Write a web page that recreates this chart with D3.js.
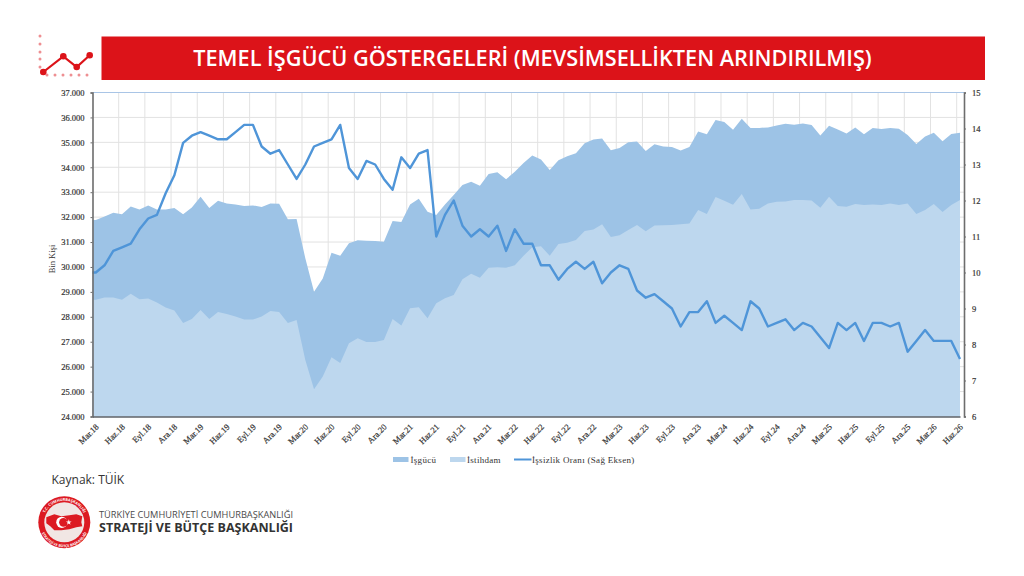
<!DOCTYPE html>
<html>
<head>
<meta charset="utf-8">
<script src="https://cdn.jsdelivr.net/npm/d3@7"></script>
<style>
  body { margin: 0; background: #fff; }
  svg { display: block; }
  .serif { font-family: "Liberation Serif", serif; fill: #333; }
  .sans { font-family: "Open Sans", sans-serif; }
  .axis text { font-family: "Liberation Serif", serif; font-size: 8.5px; fill: #333; stroke: #333; stroke-width: 0.2px; }
</style>
</head>
<body>
<svg id="chart" width="1024" height="576"></svg>
<script>
// aylik veri: Mar.18 - Haz.26 (bin kisi / yuzde)
var isgucu = [
  31.88,32.02,32.18,32.11,32.43,32.31,32.47,32.31,32.31,32.37,
  32.11,32.39,32.82,32.37,32.66,32.55,32.51,32.45,32.47,32.41,
  32.55,32.54,31.91,31.92,30.35,29.01,29.54,30.57,30.45,30.95,
  31.07,31.05,31.04,31.01,31.84,31.80,32.51,32.74,32.22,32.08,
  32.51,32.89,33.29,33.42,33.26,33.73,33.80,33.52,33.82,34.17,
  34.47,34.31,33.89,34.28,34.44,34.56,34.96,35.11,35.15,34.68,
  34.77,35.00,35.03,34.65,34.92,34.83,34.81,34.67,34.81,35.44,
  35.32,35.90,35.82,35.51,35.95,35.58,35.58,35.60,35.68,35.75,
  35.71,35.76,35.70,35.27,35.67,35.52,35.35,35.60,35.32,35.58,
  35.54,35.58,35.55,35.29,34.93,35.23,35.39,35.04,35.33,35.39
].map(function(d){ return d * 1000; });

var istihdam = [
  28.68,28.77,28.77,28.68,28.93,28.70,28.73,28.57,28.37,28.25,
  27.75,27.91,28.27,27.91,28.19,28.11,28.01,27.89,27.89,28.01,
  28.23,28.19,27.75,27.87,26.27,25.09,25.60,26.38,26.15,26.94,
  27.14,26.99,26.99,27.07,27.91,27.65,28.34,28.38,27.94,28.54,
  28.74,28.88,29.51,29.73,29.57,29.97,29.99,29.97,30.07,30.45,
  30.79,30.83,30.45,30.92,30.97,31.08,31.44,31.50,31.71,31.20,
  31.27,31.48,31.68,31.43,31.66,31.67,31.68,31.71,31.74,32.29,
  32.13,32.81,32.66,32.50,32.93,32.31,32.34,32.55,32.62,32.63,
  32.69,32.69,32.67,32.38,32.82,32.45,32.42,32.53,32.49,32.51,
  32.49,32.55,32.49,32.55,32.13,32.29,32.53,32.21,32.49,32.69
].map(function(d){ return d * 1000; });

var issizlik = [
  10.0,10.2,10.6,10.7,10.8,11.2,11.5,11.6,12.2,12.7,
  13.6,13.8,13.9,13.8,13.7,13.7,13.9,14.1,14.1,13.5,
  13.3,13.4,13.0,12.6,13.0,13.5,13.6,13.7,14.1,12.9,
  12.6,13.1,13.0,12.6,12.3,13.2,12.9,13.3,13.4,11.0,
  11.6,12.0,11.3,11.0,11.2,11.0,11.3,10.6,11.2,10.8,
  10.8,10.2,10.2,9.8,10.1,10.3,10.1,10.3,9.7,10.0,
  10.2,10.1,9.5,9.3,9.4,9.2,9.0,8.5,8.9,8.9,
  9.2,8.6,8.8,8.6,8.4,9.2,9.0,8.5,8.6,8.7,
  8.4,8.6,8.5,8.2,7.9,8.6,8.4,8.6,8.1,8.6,
  8.6,8.5,8.6,7.8,8.1,8.4,8.1,8.1,8.1,7.6
];

var tickLabels = [
  "Mar.18","Haz.18","Eyl.18","Ara.18","Mar.19","Haz.19","Eyl.19","Ara.19",
  "Mar.20","Haz.20","Eyl.20","Ara.20","Mar.21","Haz.21","Eyl.21","Ara.21",
  "Mar.22","Haz.22","Eyl.22","Ara.22","Mar.23","Haz.23","Eyl.23","Ara.23",
  "Mar.24","Haz.24","Eyl.24","Ara.24","Mar.25","Haz.25","Eyl.25","Ara.25",
  "Mar.26","Haz.26"
];

var leftTicks = d3.range(24000, 37001, 1000);
var rightTicks = d3.range(6, 16, 1);

var svg = d3.select("#chart");

var left = 92.5, right = 964, top_ = 92.5, bottom = 416.5;
var lead = -0.38; // seriler eksenden biraz once basliyor

var x = d3.scaleLinear().domain([lead, 99]).range([left, 960]);
var y = d3.scaleLinear().domain([24000, 37000]).range([bottom, top_]);
var y2 = d3.scaleLinear().domain([6, 15]).range([bottom, top_]);

// --- baslik ---
svg.append("rect").attr("x", 101.5).attr("y", 36.5).attr("width", 883.5).attr("height", 43.5).attr("fill", "#dc1319");
svg.append("text").attr("class", "sans")
  .attr("x", 532.5).attr("y", 65.5).attr("text-anchor", "middle")
  .attr("fill", "#fff").attr("font-weight", 600).attr("font-size", 21.7)
  .text("TEMEL İŞGÜCÜ GÖSTERGELERİ (MEVSİMSELLİKTEN ARINDIRILMIŞ)");

// --- ikon ---
var iconDots = [[40,36],[40,44],[40,52],[40,59],[40,67],[47,75],[55,75],[63,75],[71,75],[79,75],[87,75]];
var iconLine = [[43.3,72],[63.3,56.3],[76.7,67],[89.7,55.3]];
svg.append("g").selectAll("circle").data(iconDots).enter().append("circle")
  .attr("cx", function(d){ return d[0]; }).attr("cy", function(d){ return d[1]; })
  .attr("r", 1.5).attr("fill", "#ee8f92");
svg.append("path").attr("d", d3.line()(iconLine)).attr("fill", "none").attr("stroke", "#dc1319").attr("stroke-width", 2.2);
svg.append("g").selectAll("circle").data(iconLine).enter().append("circle")
  .attr("cx", function(d){ return d[0]; }).attr("cy", function(d){ return d[1]; })
  .attr("r", 3.3).attr("fill", "#dc1319");

// --- izgara ---
var grid = svg.append("g").attr("stroke", "#e2e2e2").attr("stroke-width", 1);
grid.selectAll("line.h").data(leftTicks.slice(1, -1)).enter().append("line").attr("class", "h")
  .attr("x1", left).attr("x2", right)
  .attr("y1", function(d){ return y(d); }).attr("y2", function(d){ return y(d); });
grid.selectAll("line.v").data(tickLabels.slice(1)).enter().append("line").attr("class", "v")
  .attr("x1", function(d, i){ return x((i + 1) * 3 + lead); })
  .attr("x2", function(d, i){ return x((i + 1) * 3 + lead); })
  .attr("y1", top_).attr("y2", bottom);

// --- seriler ---
function withLead(values) {
  var pts = values.map(function(v, i){ return [i, v]; });
  pts.unshift([lead, values[0]]);
  return pts;
}

var areaLeft = d3.area()
  .x(function(d){ return x(d[0]); })
  .y0(y(24000))
  .y1(function(d){ return y(d[1]); });

svg.append("path").attr("d", areaLeft(withLead(isgucu))).attr("fill", "#9dc3e6");
svg.append("path").attr("d", areaLeft(withLead(istihdam))).attr("fill", "#bdd7ee");

var rateLine = d3.line()
  .x(function(d){ return x(d[0]); })
  .y(function(d){ return y2(d[1]); });

svg.append("path").attr("d", rateLine(withLead(issizlik)))
  .attr("fill", "none").attr("stroke", "#4f95d8").attr("stroke-width", 2.4).attr("stroke-linejoin", "round");

// --- eksenler ---
svg.append("line").attr("x1", left).attr("x2", right).attr("y1", top_).attr("y2", top_)
  .attr("stroke", "#a9c5e6").attr("stroke-width", 1);

var axisL = svg.append("g").attr("class", "axis").attr("transform", "translate(" + left + ",0)")
  .call(d3.axisLeft(y).tickValues(leftTicks).tickSize(2).tickPadding(6)
    .tickFormat(function(d){ return d3.format(",")(d).replace(",", "."); }));
var axisR = svg.append("g").attr("class", "axis").attr("transform", "translate(" + right + ",0)")
  .call(d3.axisRight(y2).tickValues(rightTicks).tickSize(2).tickPadding(6).tickFormat(d3.format("d")));
var axisB = svg.append("g").attr("class", "axis").attr("transform", "translate(0," + bottom + ")")
  .call(d3.axisBottom(x).tickValues(tickLabels.map(function(d, i){ return i * 3; })).tickSize(0)
    .tickFormat(function(d, i){ return tickLabels[i]; }));

axisL.selectAll("path, line").attr("stroke", "#6d6d6d");
axisL.select("path").attr("stroke-width", 1.6);
axisR.selectAll("path, line").attr("stroke", "#6d6d6d");
axisR.select("path").attr("stroke-width", 1.6);
axisB.select("path").attr("stroke", "#5f6368").attr("stroke-width", 1.4);
axisB.selectAll("text")
  .attr("text-anchor", "end")
  .attr("y", 0).attr("dy", 0)
  .attr("transform", "translate(3,11) rotate(-45)");

svg.append("text").attr("class", "serif")
  .attr("transform", "translate(55,259) rotate(-90)")
  .attr("text-anchor", "middle").attr("font-size", 8.5)
  .text("Bin Kişi");

// --- legend ---
var legendY = 459.5;
var legendItems = [
  { label: "İşgücü", color: "#9dc3e6", sx: 393, tx: 410.5 },
  { label: "İstihdam", color: "#bdd7ee", sx: 450, tx: 467 }
];
legendItems.forEach(function(it){
  svg.append("rect").attr("x", it.sx).attr("y", legendY - 2.5).attr("width", 15.5).attr("height", 5).attr("fill", it.color);
  svg.append("text").attr("class", "serif").attr("x", it.tx).attr("y", legendY + 3)
    .attr("font-size", 9).attr("letter-spacing", 0.3).text(it.label);
});
svg.append("line").attr("x1", 514).attr("x2", 531.5).attr("y1", legendY).attr("y2", legendY)
  .attr("stroke", "#4f95d8").attr("stroke-width", 2);
svg.append("text").attr("class", "serif").attr("x", 532).attr("y", legendY + 3)
  .attr("font-size", 9).attr("letter-spacing", 0.3).text("İşsizlik Oranı (Sağ Eksen)");

// --- kaynak ---
svg.append("text").attr("class", "sans").attr("x", 51.5).attr("y", 484)
  .attr("font-size", 12).attr("fill", "#333").text("Kaynak: TÜİK");

// --- logo ---
var logo = svg.append("g").attr("transform", "translate(64.3,522.3)");
logo.append("circle").attr("r", 26).attr("fill", "#dc1a22");
logo.append("circle").attr("r", 20).attr("fill", "#f1e6e4");
logo.append("path").attr("fill", "#dc1a22")
  .attr("d", "M-18,-5 L-10,-8 L-3,-6 L5,-7 L12,-8 L18,-6 L17,0 L18,4 L12,5 L5,7 L-3,8 L-10,8 L-14,4 L-18,1 Z");
logo.append("circle").attr("cx", -2.5).attr("r", 5.6).attr("fill", "#fff");
logo.append("circle").attr("cx", -0.8).attr("r", 4.4).attr("fill", "#dc1a22");
logo.append("path").attr("fill", "#fff").attr("d", d3.symbol().type(d3.symbolStar).size(10)()).attr("transform", "translate(4.5,0)");
var defs = svg.append("defs");
defs.append("path").attr("id", "arcTop").attr("d", "M-21.5,0 A21.5,21.5 0 0 1 21.5,0");
defs.append("path").attr("id", "arcBot").attr("d", "M-25,0 A25,25 0 0 0 25,0");
logo.append("text").attr("class", "sans").attr("font-size", 3.8).attr("font-weight", 700).attr("fill", "#fff")
  .append("textPath").attr("href", "#arcTop").attr("startOffset", "50%").attr("text-anchor", "middle")
  .text("T.C. CUMHURBAŞKANLIĞI");
logo.append("text").attr("class", "sans").attr("font-size", 3.6).attr("font-weight", 700).attr("fill", "#fff")
  .append("textPath").attr("href", "#arcBot").attr("startOffset", "50%").attr("text-anchor", "middle")
  .text("STRATEJİ VE BÜTÇE BAŞKANLIĞI");

svg.append("text").attr("class", "sans").attr("x", 99).attr("y", 518)
  .attr("font-size", 9.3).attr("fill", "#4a4a4a").attr("textLength", 194).attr("lengthAdjust", "spacingAndGlyphs")
  .text("TÜRKİYE CUMHURİYETİ CUMHURBAŞKANLIĞI");
svg.append("text").attr("class", "sans").attr("x", 99).attr("y", 531.5)
  .attr("font-size", 11.6).attr("font-weight", 700).attr("fill", "#333").attr("textLength", 194).attr("lengthAdjust", "spacingAndGlyphs")
  .text("STRATEJİ VE BÜTÇE BAŞKANLIĞI");
</script>
</body>
</html>
